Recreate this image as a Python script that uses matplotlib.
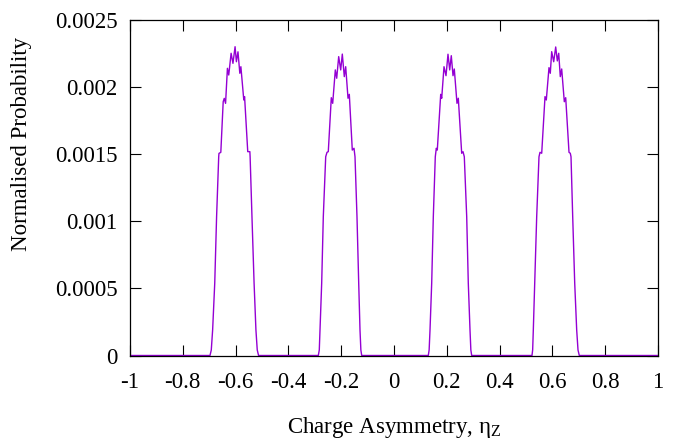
"""
Charge asymmetry distribution - four peaks, gnuplot-like look.
"""

import numpy as np
import matplotlib.pyplot as plt

# values, one peak at a time
eta_peak1 = [-0.6970, -0.6921, -0.6870, -0.6790, -0.6720, -0.6640, -0.6630, -0.6560,
             -0.6470, -0.6430, -0.6380, -0.6310, -0.6260, -0.6170, -0.6100, -0.6020,
             -0.5970, -0.5910, -0.5840, -0.5800, -0.5690, -0.5660, -0.5540, -0.5460,
             -0.5450, -0.5380, -0.5300, -0.5230, -0.5180, -0.5130]
p_peak1 = [0.0, 0.000041, 0.000190, 0.000540, 0.001034, 0.001481, 0.001506, 0.001514,
           0.001891, 0.001916, 0.001879, 0.002140, 0.002090, 0.002252, 0.002177, 0.002301,
           0.002189, 0.002263, 0.002103, 0.002152, 0.001904, 0.001929, 0.001519, 0.001519,
           0.001481, 0.001034, 0.000540, 0.000190, 0.000041, 0.0]

eta_peak2 = [-0.2867, -0.2830, -0.2803, -0.2739, -0.2678, -0.2587, -0.2538, -0.2489,
             -0.2375, -0.2322, -0.2223, -0.2170, -0.2095, -0.2019, -0.1958, -0.1883,
             -0.1830, -0.1742, -0.1693, -0.1580, -0.1515, -0.1477, -0.1402, -0.1337,
             -0.1288, -0.1255, -0.1223]
p_peak2 = [0.0, 0.000041, 0.000190, 0.000540, 0.001034, 0.001481, 0.001514, 0.001519,
           0.001921, 0.001879, 0.002128, 0.002066, 0.002227, 0.002128, 0.002246, 0.002078,
           0.002152, 0.001917, 0.001946, 0.001531, 0.001544, 0.001481, 0.001034, 0.000540,
           0.000190, 0.000041, 0.0]

eta_peak3 = [0.1299, 0.1331, 0.1364, 0.1428, 0.1489, 0.1564, 0.1602, 0.1640,
             0.1769, 0.1807, 0.1894, 0.1970, 0.2045, 0.2110, 0.2170, 0.2235,
             0.2284, 0.2386, 0.2436, 0.2564, 0.2614, 0.2663, 0.2754, 0.2814,
             0.2879, 0.2911, 0.2943]
p_peak3 = [0.0, 0.000041, 0.000190, 0.000540, 0.001034, 0.001481, 0.001544, 0.001531,
           0.001946, 0.001917, 0.002152, 0.002085, 0.002245, 0.002128, 0.002234, 0.002085,
           0.002135, 0.001879, 0.001917, 0.001507, 0.001519, 0.001481, 0.001034, 0.000540,
           0.000190, 0.000041, 0.0]

eta_peak4 = [0.5227, 0.5252, 0.5277, 0.5330, 0.5405, 0.5492, 0.5530, 0.5595,
             0.5720, 0.5769, 0.5871, 0.5920, 0.5973, 0.6049, 0.6125, 0.6186,
             0.6239, 0.6299, 0.6352, 0.6451, 0.6504, 0.6629, 0.6678, 0.6705,
             0.6769, 0.6845, 0.6920, 0.6970, 0.7019]
p_peak4 = [0.0, 0.000041, 0.000190, 0.000540, 0.001034, 0.001481, 0.001514, 0.001507,
           0.001929, 0.001904, 0.002145, 0.002103, 0.002264, 0.002189, 0.002299, 0.002195,
           0.002252, 0.002078, 0.002135, 0.001891, 0.001921, 0.001514, 0.001507, 0.001481,
           0.001034, 0.000540, 0.000190, 0.000041, 0.0]

x_ticks = [-1, -0.8, -0.6, -0.4, -0.2, 0, 0.2, 0.4, 0.6, 0.8, 1]
x_tick_labels = ["-1", "-0.8", "-0.6", "-0.4", "-0.2", "0", "0.2", "0.4", "0.6", "0.8", "1"]
y_ticks = [0, 0.0005, 0.001, 0.0015, 0.002, 0.0025]
y_tick_labels = ["0", "0.0005", "0.001", "0.0015", "0.002", "0.0025"]


def build_curve():
    # zero baseline across the whole range, peaks in between
    eta = [-1.0] + eta_peak1 + eta_peak2 + eta_peak3 + eta_peak4 + [1.0]
    prob = [0.0] + p_peak1 + p_peak2 + p_peak3 + p_peak4 + [0.0]
    return np.array(eta), np.array(prob)


def plot_distribution(eta, prob):
    plt.rcParams['font.family'] = ['Liberation Serif', 'DejaVu Serif']
    plt.rcParams['mathtext.fontset'] = 'custom'
    plt.rcParams['mathtext.rm'] = 'Liberation Serif'
    plt.rcParams['mathtext.it'] = 'Liberation Serif:italic'

    fig = plt.figure(figsize=(6.87, 4.45), dpi=100)
    ax = fig.add_axes([130 / 687, 1 - 355.5 / 445, 528 / 687, 335.5 / 445])

    ax.plot(eta, prob, color='#9400D3', linewidth=1.0)

    ax.set_xlim(-1, 1)
    ax.set_ylim(0, 0.0025)
    ax.set_xticks(x_ticks)
    ax.set_xticklabels(x_tick_labels)
    ax.set_yticks(y_ticks)
    ax.set_yticklabels(y_tick_labels)

    ax.tick_params(direction='in', length=8, width=0.8, top=True, right=True,
                   labelsize=16.5, color='black')
    ax.tick_params(axis='x', pad=12)
    ax.tick_params(axis='y', pad=9)
    for spine in ax.spines.values():
        spine.set_linewidth(0.9)

    ax.set_xlabel(r'Charge Asymmetry, $\mathrm{\eta}_{\mathrm{Z}}$', fontsize=16.5)
    ax.set_ylabel('Normalised Probability', fontsize=16.5)
    ax.xaxis.set_label_coords(0.5, (355.5 - 428) / 335.5)
    ax.yaxis.set_label_coords((22 - 130) / 528, (355.5 - 144) / 335.5)
    ax.xaxis.label.set_va('center')
    ax.yaxis.label.set_va('center')

    fig.savefig('out.png', dpi=100)


if __name__ == "__main__":
    eta, prob = build_curve()
    plot_distribution(eta, prob)
